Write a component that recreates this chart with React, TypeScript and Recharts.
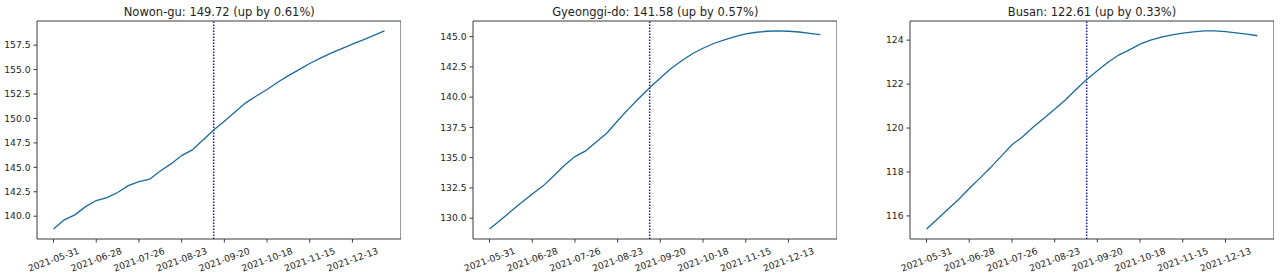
import React from 'react';
import { LineChart, Line, XAxis, YAxis, ReferenceLine } from 'recharts';

const dates = [
  '2021-05-31', '2021-06-07', '2021-06-14', '2021-06-21', '2021-06-28', '2021-07-05', '2021-07-12', '2021-07-19',
  '2021-07-26', '2021-08-02', '2021-08-09', '2021-08-16', '2021-08-23', '2021-08-30', '2021-09-06', '2021-09-13',
  '2021-09-20', '2021-09-27', '2021-10-04', '2021-10-11', '2021-10-18', '2021-10-25', '2021-11-01', '2021-11-08',
  '2021-11-15', '2021-11-22', '2021-11-29', '2021-12-06', '2021-12-13', '2021-12-20', '2021-12-27', '2022-01-03',
];

const xTickLabels = ['2021-05-31', '2021-06-28', '2021-07-26', '2021-08-23', '2021-09-20', '2021-10-18', '2021-11-15', '2021-12-13'];
const markerDate = '2021-09-13';

const nowonValues = [
  138.68, 139.63, 140.14, 140.98, 141.60, 141.91, 142.42, 143.12, 143.53, 143.78, 144.63, 145.35, 146.20, 146.78, 147.80, 148.81,
  149.72, 150.65, 151.60, 152.30, 152.96, 153.70, 154.38, 155.00, 155.63, 156.17, 156.69, 157.15, 157.60, 158.05, 158.50, 158.96,
];
const gyeonggiValues = [
  129.10, 129.84, 130.57, 131.29, 132.00, 132.65, 133.48, 134.35, 135.09, 135.56, 136.30, 137.04, 138.05, 139.01, 139.91, 140.78,
  141.58, 142.37, 143.00, 143.58, 144.04, 144.43, 144.73, 145.00, 145.22, 145.36, 145.44, 145.47, 145.44, 145.38, 145.27, 145.17,
];
const busanValues = [
  115.40, 115.85, 116.30, 116.75, 117.25, 117.72, 118.20, 118.72, 119.24, 119.60, 120.05, 120.45, 120.85, 121.28, 121.75, 122.21,
  122.61, 122.99, 123.32, 123.56, 123.82, 124.00, 124.14, 124.24, 124.32, 124.38, 124.42, 124.42, 124.39, 124.33, 124.27, 124.20,
];

const nowonTicks = [140, 142.5, 145, 147.5, 150, 152.5, 155, 157.5];
const gyeonggiTicks = [130, 132.5, 135, 137.5, 140, 142.5, 145];
const busanTicks = [116, 118, 120, 122, 124];

const titles = ['Nowon-gu: 149.72 (up by 0.61%)', 'Gyeonggi-do: 141.58 (up by 0.57%)', 'Busan: 122.61 (up by 0.33%)'];

const FONT = '"DejaVu Sans", Verdana, sans-serif';
const LINE_COLOR = '#1b6a9e';
const MARK_COLOR = '#1a1aa0';
const AXIS_COLOR = '#3a3a3a';
const TEXT_COLOR = '#1e1e1e';

const Y_AXIS_W = 36;
const PLOT_W = 364;
const CHART_H = 276;
const TOP = 21;
const X_AXIS_H = 37;

const xTickIdx = xTickLabels.map((d) => dates.indexOf(d));
const markerIdx = dates.indexOf(markerDate);

function withMargin(vals: number[]): [number, number] {
  const lo = Math.min(...vals);
  const hi = Math.max(...vals);
  const m = (hi - lo) * 0.05;
  return [lo - m, hi + m];
}

const xDomain: [number, number] = [-(dates.length - 1) * 0.05, (dates.length - 1) * 1.05];

const XTick = (props: any) => {
  const { x, y, payload } = props;
  const label = dates[payload.value] ?? '';
  return (
    <g transform={`translate(${x},${y + 15})`}>
      <text
        x={0}
        y={0}
        dy="0.35em"
        textAnchor="middle"
        transform="rotate(-20)"
        fontSize={9.2}
        fontFamily={FONT}
        fill={TEXT_COLOR}
      >
        {label}
      </text>
    </g>
  );
};

type PanelProps = {
  left: number;
  title: string;
  values: number[];
  yTicks: number[];
  decimals: number;
};

const Panel = ({ left, title, values, yTicks, decimals }: PanelProps) => {
  const data = values.map((v, i) => ({ x: i, date: dates[i], value: v }));
  const yDomain = withMargin(values);
  return (
    <>
      <div
        style={{
          position: 'absolute',
          left: left,
          top: 4,
          width: PLOT_W,
          textAlign: 'center',
          fontFamily: FONT,
          fontSize: 11.5,
          lineHeight: '16px',
          color: TEXT_COLOR,
          whiteSpace: 'nowrap',
        }}
      >
        {title}
      </div>
      <div style={{ position: 'absolute', left: left - Y_AXIS_W, top: 0 }}>
        <LineChart
          width={Y_AXIS_W + PLOT_W}
          height={CHART_H}
          data={data}
          margin={{ top: TOP, right: 0, bottom: 0, left: 0 }}
        >
          <XAxis
            dataKey="x"
            type="number"
            domain={xDomain}
            ticks={xTickIdx}
            interval={0}
            allowDataOverflow
            height={X_AXIS_H}
            tickSize={3.5}
            tickMargin={2}
            tickLine={{ stroke: AXIS_COLOR }}
            axisLine={{ stroke: AXIS_COLOR }}
            tick={<XTick />}
          />
          <YAxis
            type="number"
            domain={yDomain}
            ticks={yTicks}
            interval={0}
            allowDataOverflow
            width={Y_AXIS_W}
            tickSize={3.5}
            tickMargin={3}
            tickLine={{ stroke: AXIS_COLOR }}
            axisLine={{ stroke: AXIS_COLOR }}
            tickFormatter={(v: number) => v.toFixed(decimals)}
            tick={{ fontSize: 9.2, fontFamily: FONT, fill: TEXT_COLOR }}
          />
          <ReferenceLine y={yDomain[1]} stroke={AXIS_COLOR} strokeWidth={1} ifOverflow="visible" />
          <ReferenceLine x={xDomain[1]} stroke={AXIS_COLOR} strokeWidth={1} ifOverflow="visible" />
          <ReferenceLine
            x={markerIdx}
            stroke={MARK_COLOR}
            strokeWidth={1.5}
            strokeDasharray="1.5 1.5"
          />
          <Line
            type="linear"
            dataKey="value"
            stroke={LINE_COLOR}
            strokeWidth={1.3}
            dot={false}
            activeDot={false}
            isAnimationActive={false}
          />
        </LineChart>
      </div>
    </>
  );
};

export default function App() {
  return (
    <div
      style={{
        position: 'absolute',
        left: 0,
        top: 0,
        width: 1280,
        height: 276,
        background: '#ffffff',
        overflow: 'hidden',
      }}
    >
      <Panel left={37.3} title={titles[0]} values={nowonValues} yTicks={nowonTicks} decimals={1} />
      <Panel left={473.3} title={titles[1]} values={gyeonggiValues} yTicks={gyeonggiTicks} decimals={1} />
      <Panel left={910} title={titles[2]} values={busanValues} yTicks={busanTicks} decimals={0} />
    </div>
  );
}
